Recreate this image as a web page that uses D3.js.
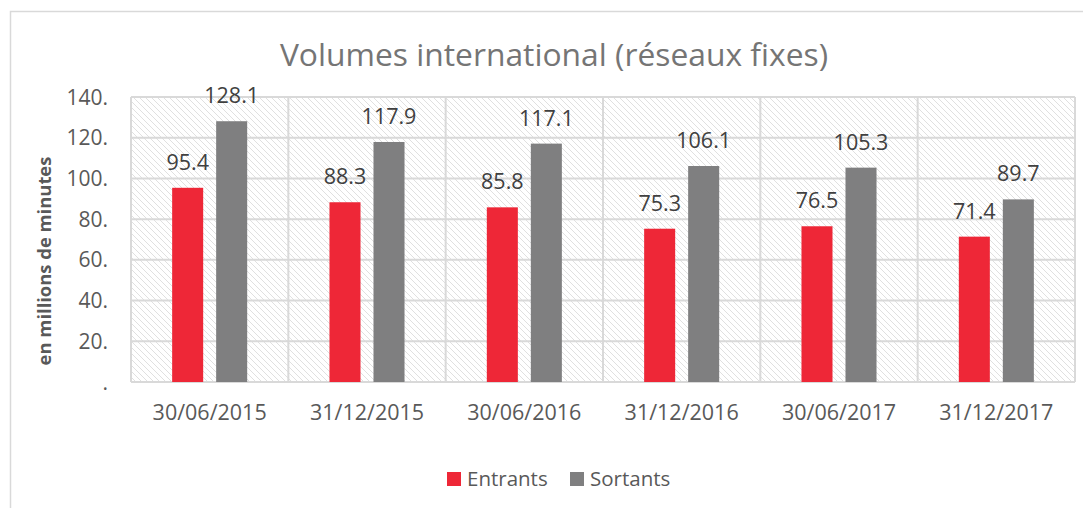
<!DOCTYPE html>
<html>
<head>
<meta charset="utf-8">
<script src="https://cdn.jsdelivr.net/npm/d3@7"></script>
<style>
  body { margin: 0; background: #fff; }
  svg { display: block; font-family: "Open Sans", sans-serif; }
</style>
</head>
<body>
<div id="chart"></div>
<script>
// data
const categories = ['30/06/2015', '31/12/2015', '30/06/2016', '31/12/2016', '30/06/2017', '31/12/2017']
const seriesNames = ['Entrants', 'Sortants']
const entrants = [95.4, 88.3, 85.8, 75.3, 76.5, 71.4]
const sortants = [128.1, 117.9, 117.1, 106.1, 105.3, 89.7]
const yTicks = [0, 20, 40, 60, 80, 100, 120, 140]
const colors = ['#ee2737', '#7f7f80']

const width = 1083
const height = 508
const plot = { left: 131, right: 1075, top: 97, bottom: 382 }

const svg = d3.select('#chart')
    .append('svg')
    .attr('width', width)
    .attr('height', height)

// outer chart border (runs off the right / bottom edge)
svg.append('rect')
    .attr('x', 10.5).attr('y', 11.5)
    .attr('width', 1090).attr('height', 510)
    .attr('fill', '#fff')
    .attr('stroke', '#d9d9d9')
    .attr('stroke-width', 1.5)

// hatch pattern for plot background
const defs = svg.append('defs')
const pat = defs.append('pattern')
    .attr('id', 'hatch')
    .attr('patternUnits', 'userSpaceOnUse')
    .attr('width', 6).attr('height', 6)
pat.append('path')
    .attr('d', 'M0,0 L6,6 M-1,5 L1,7 M5,-1 L7,1')
    .attr('stroke', '#e0e0e0')
    .attr('stroke-width', 1)

const x0 = d3.scaleBand()
    .domain(categories)
    .range([plot.left, plot.right])
    .padding(0)

const x1 = d3.scaleBand()
    .domain(seriesNames)
    .range([0, x0.bandwidth()])
    .paddingInner(0.295)
    .paddingOuter(0.935)

const y = d3.scaleLinear()
    .domain([0, 140])
    .range([plot.bottom, plot.top])

svg.append('rect')
    .attr('x', plot.left).attr('y', plot.top)
    .attr('width', plot.right - plot.left)
    .attr('height', plot.bottom - plot.top)
    .attr('fill', 'url(#hatch)')

// gridlines
const grid = svg.append('g').attr('stroke', '#d9d9d9').attr('stroke-width', 2)
grid.selectAll('.hgrid')
    .data(yTicks)
    .enter()
    .append('line')
    .attr('x1', plot.left).attr('x2', plot.right)
    .attr('y1', d => y(d)).attr('y2', d => y(d))
grid.selectAll('.vgrid')
    .data(categories.concat(['end']))
    .enter()
    .append('line')
    .attr('x1', (d, i) => i < categories.length ? x0(d) : plot.right)
    .attr('x2', (d, i) => i < categories.length ? x0(d) : plot.right)
    .attr('y1', plot.top).attr('y2', plot.bottom)

// bars
const rows = categories.map((c, i) => ({ cat: c, values: [entrants[i], sortants[i]] }))
const groups = svg.selectAll('.grp')
    .data(rows)
    .enter()
    .append('g')
    .attr('transform', d => `translate(${x0(d.cat)},0)`)

groups.selectAll('rect')
    .data(d => d.values.map((v, j) => ({ s: seriesNames[j], v: v, j: j })))
    .enter()
    .append('rect')
    .attr('x', d => x1(d.s))
    .attr('width', x1.bandwidth())
    .attr('y', d => y(d.v))
    .attr('height', d => y(0) - y(d.v))
    .attr('fill', d => colors[d.j])

groups.selectAll('text')
    .data(d => d.values.map((v, j) => ({ s: seriesNames[j], v: v })))
    .enter()
    .append('text')
    .attr('x', d => x1(d.s) + x1.bandwidth() / 2)
    .attr('y', d => y(d.v) - 18)
    .attr('text-anchor', 'middle')
    .attr('font-size', 21.5)
    .attr('fill', '#404040')
    .text(d => d.v.toFixed(1))

// y axis labels
svg.selectAll('.ytick')
    .data(yTicks)
    .enter()
    .append('text')
    .attr('x', 108)
    .attr('y', d => y(d) + 7.5)
    .attr('text-anchor', 'end')
    .attr('font-size', 21)
    .attr('fill', '#595959')
    .text(d => d === 0 ? '.' : d + '.')

// x axis labels
svg.selectAll('.xtick')
    .data(categories)
    .enter()
    .append('text')
    .attr('x', d => x0(d) + x0.bandwidth() / 2)
    .attr('y', 420)
    .attr('text-anchor', 'middle')
    .attr('font-size', 21.5)
    .attr('fill', '#595959')
    .text(d => d)

// title
svg.append('text')
    .attr('x', 554)
    .attr('y', 66)
    .attr('text-anchor', 'middle')
    .attr('font-size', 31.8)
    .attr('fill', '#757575')
    .text('Volumes international (réseaux fixes)')

// y axis title
svg.append('text')
    .attr('transform', 'translate(51,261) rotate(-90)')
    .attr('text-anchor', 'middle')
    .attr('font-size', 18.4)
    .attr('font-weight', 'bold')
    .attr('fill', '#595959')
    .text('en millions de minutes')

// legend
const legendX = [447, 570]
const legend = svg.selectAll('.leg')
    .data(seriesNames)
    .enter()
    .append('g')
    .attr('transform', (d, i) => `translate(${legendX[i]},472)`)
legend.append('rect')
    .attr('width', 14).attr('height', 14)
    .attr('fill', (d, i) => colors[i])
legend.append('text')
    .attr('x', 20).attr('y', 13.5)
    .attr('font-size', 20.5)
    .attr('fill', '#595959')
    .text(d => d)
</script>
</body>
</html>
